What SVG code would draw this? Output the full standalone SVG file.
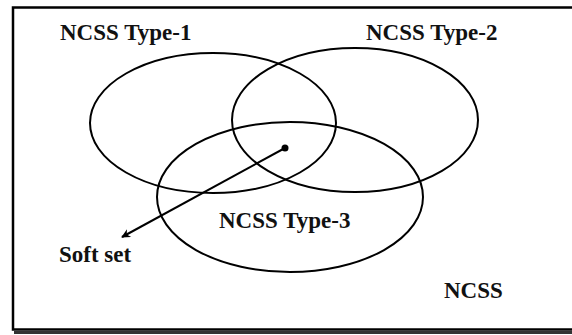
<svg xmlns="http://www.w3.org/2000/svg" width="572" height="335" viewBox="0 0 572 335">
<style>
.set{fill:none;stroke:#000;stroke-width:2}
.lbl{font-family:"Liberation Serif","Times New Roman",serif;font-weight:bold;font-size:23px;fill:#111}
</style>
<defs>
<marker id="ah" viewBox="0 0 10 10" refX="9" refY="5" markerWidth="10" markerHeight="9" orient="auto" markerUnits="userSpaceOnUse">
<path d="M0,0 L10,5 L0,10 L3,5 z" fill="#000"/>
</marker>
</defs>
<rect width="572" height="335" fill="#fff"/>
<g id="frame">
<rect x="13" y="7.5" width="575" height="322" fill="none" stroke="#000" stroke-width="2.5"/>
<line x1="14" y1="332.5" x2="572" y2="332.5" stroke="#333" stroke-width="3"/>
</g>
<g id="type1"><ellipse class="set" cx="213" cy="123" rx="123" ry="70"/><text class="lbl" x="60" y="40">NCSS Type-1</text></g>
<g id="type2"><ellipse class="set" cx="355" cy="120" rx="123" ry="72"/><text class="lbl" x="366" y="40">NCSS Type-2</text></g>
<g id="type3"><ellipse class="set" cx="290" cy="197" rx="133" ry="75"/><text class="lbl" x="219" y="228">NCSS Type-3</text></g>
<g id="softset"><circle cx="285" cy="148" r="3.5" fill="#000"/><text class="lbl" x="59" y="262">Soft set</text></g>
<g id="ncss"><text class="lbl" x="444" y="298">NCSS</text></g>
<g id="connectors">
<line x1="285" y1="148" x2="122" y2="237" stroke="#000" stroke-width="2" marker-end="url(#ah)"/>
</g>
</svg>
